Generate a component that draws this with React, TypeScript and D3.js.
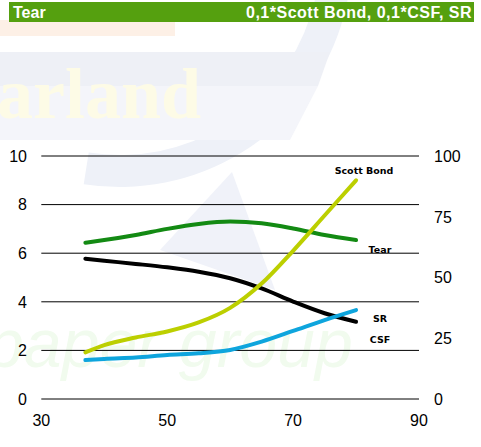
import React from "react";
import * as d3 from "d3";

// x positions shared by all series
const xValues = [37, 40, 45, 50, 55, 60, 65, 70, 75, 80];

// Tear on the left axis (0-10)
const tear = [6.43, 6.54, 6.75, 7.0, 7.2, 7.3, 7.23, 7.02, 6.75, 6.54];
// right axis (0-100)
const scottBond = [19.2, 22.2, 25.3, 27.8, 31.5, 37.5, 47.5, 61, 75.5, 90];
const csf = [16.0, 16.5, 17.1, 18.1, 18.8, 20.2, 23.6, 28, 32.5, 36.6];
const sr = [57.7, 56.9, 55.6, 54.2, 52.4, 49.7, 45.5, 40.1, 35.3, 31.8];

const leftTicks = [0, 2, 4, 6, 8, 10];
const rightTicks = [0, 25, 50, 75, 100];
const xTicks = [30, 50, 70, 90];

const titleLeft = "Tear";
const titleRight = "0,1*Scott Bond, 0,1*CSF, SR";

const App = () => {
  const width = 481;
  const height = 447;

  const x = d3.scaleLinear().domain([30, 90]).range([41.3, 419]);
  const yLeft = d3.scaleLinear().domain([0, 10]).range([399, 156]);
  const yRight = d3.scaleLinear().domain([0, 100]).range([399, 156]);

  const makeLine = (scale) =>
    d3
      .line<number>()
      .x((d, i) => x(xValues[i]))
      .y((d) => scale(d))
      .curve(d3.curveMonotoneX);

  const lineLeft = makeLine(yLeft);
  const lineRight = makeLine(yRight);

  const series = [
    { name: "Tear", values: tear, line: lineLeft, color: "#138a13" },
    { name: "SR", values: sr, line: lineRight, color: "#000000" },
    { name: "CSF", values: csf, line: lineRight, color: "#0ea5dd" },
    { name: "Scott Bond", values: scottBond, line: lineRight, color: "#bccf00" },
  ];

  const font = "'Liberation Sans', Arial, sans-serif";

  // watermark ring arc
  const ring = d3
    .arc()
    .innerRadius(200)
    .outerRadius(232)
    .startAngle(Math.PI * 0.15)
    .endAngle(Math.PI * 1.05);

  return (
    <svg
      width={width}
      height={height}
      style={{ position: "absolute", left: 0, top: 0, background: "#fff" }}
    >
      {/* faint watermark logo */}
      <g>
        <rect x={0} y={20} width={175} height={16} fill="#fdf0e6" />
        <path d={ring(null as any) || ""} transform="translate(120,-45)" fill="#eef1f8" />
        <path d="M 0 52 L 330 52 L 318 86 L 0 86 Z" fill="#eef0f6" />
        <path d="M 0 86 L 318 86 L 290 140 L 0 140 Z" fill="#f4f5fa" />
        <path d="M 160 250 L 232 172 L 275 290 Z" fill="#f0f2f9" />
        <text
          x={-3}
          y={118}
          fontFamily="'Liberation Serif', 'DejaVu Serif', serif"
          fontWeight="bold"
          fontSize={72}
          fill="#fdfbe6"
        >
          arland
        </text>
        <text
          x={-14}
          y={367}
          fontFamily="'Liberation Sans', sans-serif"
          fontStyle="italic"
          fontSize={68}
          fill="#f1fbee"
        >
          paper  group
        </text>
      </g>

      {/* header bar */}
      <rect x={9} y={2} width={465} height={20} fill="#55a00f" />
      <text
        x={13}
        y={17.5}
        fill="#fff"
        fontFamily={font}
        fontWeight="bold"
        fontSize={16}
      >
        {titleLeft}
      </text>
      <text
        x={472}
        y={17.5}
        fill="#fff"
        fontFamily={font}
        fontWeight="bold"
        fontSize={16}
        letterSpacing={0.5}
        textAnchor="end"
      >
        {titleRight}
      </text>

      {/* grid lines */}
      {leftTicks.map((t) => (
        <line
          key={"g" + t}
          x1={x(30)}
          x2={x(90)}
          y1={yLeft(t)}
          y2={yLeft(t)}
          stroke="#000"
          strokeWidth={1}
        />
      ))}

      {/* left axis labels */}
      {leftTicks.map((t) => (
        <text
          key={"l" + t}
          x={27}
          y={yLeft(t)}
          dy="0.36em"
          textAnchor="end"
          fontFamily={font}
          fontSize={16}
          fill="#000"
        >
          {t}
        </text>
      ))}

      {/* right axis labels */}
      {rightTicks.map((t) => (
        <text
          key={"r" + t}
          x={434}
          y={yRight(t)}
          dy="0.36em"
          fontFamily={font}
          fontSize={16}
          fill="#000"
        >
          {t}
        </text>
      ))}

      {/* x axis labels */}
      {xTicks.map((t) => (
        <text
          key={"x" + t}
          x={x(t)}
          y={420}
          dy="0.36em"
          textAnchor="middle"
          fontFamily={font}
          fontSize={16}
          fill="#000"
        >
          {t}
        </text>
      ))}

      {/* series */}
      {series.map((s) => (
        <path
          key={s.name}
          d={s.line(s.values) || ""}
          fill="none"
          stroke={s.color}
          strokeWidth={4}
          strokeLinecap="round"
        />
      ))}

      {/* series labels */}
      <g fontFamily="'DejaVu Sans', sans-serif" fontWeight="bold" fontSize={9.5} fill="#000">
        <text x={364} y={171} dy="0.36em" textAnchor="middle">
          Scott Bond
        </text>
        <text x={380} y={250} dy="0.36em" textAnchor="middle">
          Tear
        </text>
        <text x={380} y={319} dy="0.36em" textAnchor="middle">
          SR
        </text>
        <text x={380} y={340} dy="0.36em" textAnchor="middle">
          CSF
        </text>
      </g>
    </svg>
  );
};

export default App;
